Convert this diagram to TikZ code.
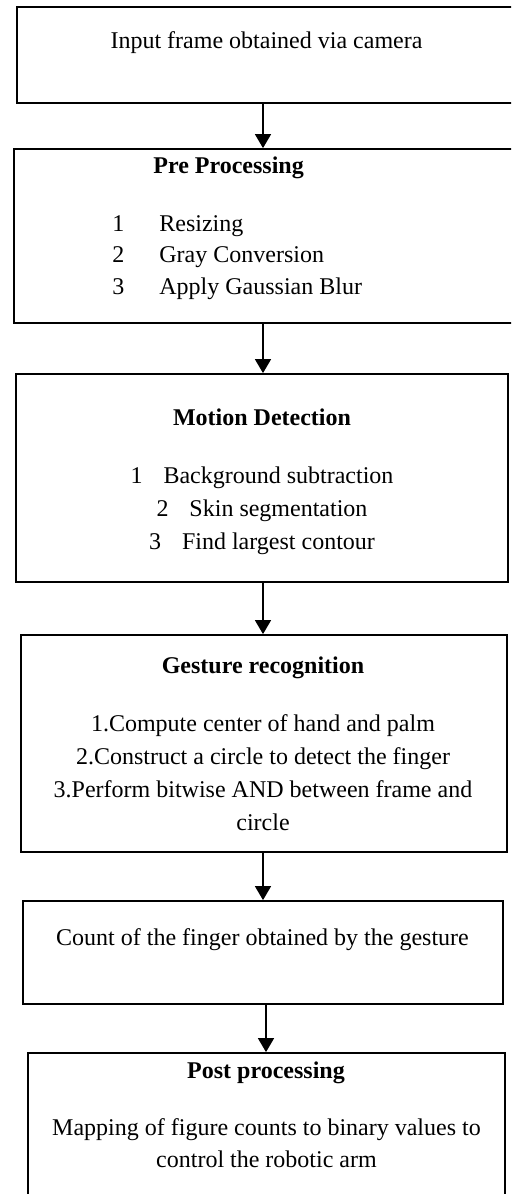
\documentclass[tikz,border=0pt]{standalone}
\usepackage{fontspec}
\setmainfont{Liberation Serif}
\usepackage{tikz}
\usetikzlibrary{arrows.meta,positioning}

\begin{document}
\begin{tikzpicture}[
      x=0.5pt,y=-0.5pt,
      box/.style={draw,line width=0.9pt,inner sep=0pt},
      txt/.style={inner sep=0pt,anchor=base,align=center,font=\fontsize{12}{16.5}\selectfont},
      >={Triangle[width=8pt,length=7pt]},
      flow/.style={->,line width=0.8pt}
    ]
      \useasboundingbox (0,0) rectangle (511,1194);
      \clip (0,0) rectangle (511,1194);

      % Boxes
      \node[box,minimum width=256.5pt,minimum height=48pt] (cam) at (273.5,55) {};
      \node[box,minimum width=258pt,minimum height=87pt] (pre) at (272,236) {};
      \node[box,minimum width=246pt,minimum height=104pt] (mot) at (262,478) {};
      \node[box,minimum width=243pt,minimum height=108.5pt] (ges) at (264,743.5) {};
      \node[box,minimum width=240pt,minimum height=51.5pt] (cnt) at (263,952.5) {};
      \node[box,minimum width=238.5pt,minimum height=83.5pt] (post) at (266.5,1136.5) {};

      % Texts (multi-line nodes sit on their last baseline)
      \node[txt] (camtxt) at (266.5,48) {Input frame obtained via camera};

      \node[txt,anchor=base west] (pretitle) at (153,173) {\textbf{Pre Processing}};
      \node[txt,anchor=base west,align=left,font=\fontsize{12}{15.75}\selectfont] (prelist) at (112,294)
        {1\hspace{17.5pt}Resizing\\ 2\hspace{17.5pt}Gray Conversion\\ 3\hspace{17.5pt}Apply Gaussian Blur};

      \node[txt] (mottitle) at (262,425) {\textbf{Motion Detection}};
      \node[txt] (motlist) at (262,549)
        {1\hspace{10.5pt}Background subtraction\\ 2\hspace{10.5pt}Skin segmentation\\ 3\hspace{10.5pt}Find largest contour};

      \node[txt] (gestitle) at (263,673) {\textbf{Gesture recognition}};
      \node[txt] (geslist) at (263,830)
        {1.Compute center of hand and palm\\ 2.Construct a circle to detect the finger\\ 3.Perform bitwise AND between frame and\\ circle};

      \node[txt] (cnttxt) at (262.5,945) {Count of the finger obtained by the gesture};

      \node[txt] (posttitle) at (266,1078) {\textbf{Post processing}};
      \node[txt,font=\fontsize{12}{16}\selectfont] (posttxt) at (266.5,1167)
        {Mapping of figure counts to binary values to\\ control the robotic arm};

      % Arrows
      \coordinate (spine) at (263,0);
      \draw[flow] (cam.south -| spine) -- (pre.north -| spine);
      \draw[flow] (pre.south -| spine) -- (mot.north -| spine);
      \draw[flow] (mot.south -| spine) -- (ges.north -| spine);
      \draw[flow] (ges.south -| spine) -- (cnt.north -| spine);
      \draw[flow] ([xshift=1.5pt]cnt.south -| spine) -- ([xshift=1.5pt]post.north -| spine);
    \end{tikzpicture}
\end{document}
